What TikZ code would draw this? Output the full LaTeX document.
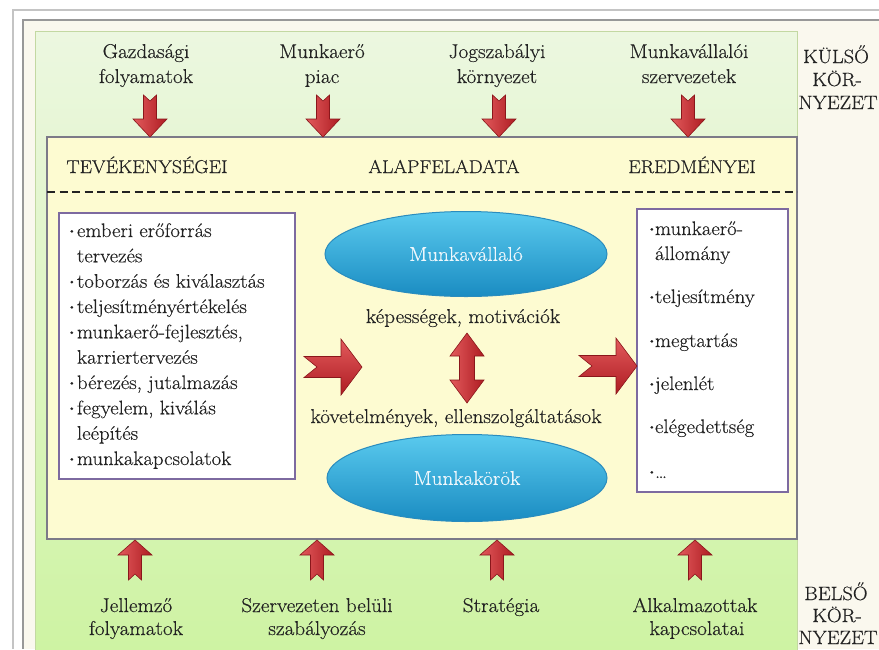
\documentclass[tikz,border=0pt]{standalone}
\usepackage{fontspec}
\setmainfont{Latin Modern Roman}[FakeStretch=1.06, FakeBold=0.35]
\definecolor{txt}{HTML}{222222}
\definecolor{framegray}{HTML}{C4C4C4}
\definecolor{framedark}{HTML}{989898}
\definecolor{creamc}{HTML}{FAF8EE}
\definecolor{greentop}{HTML}{ECF7E0}
\definecolor{greenbot}{HTML}{CEF3A3}
\definecolor{greenedge}{HTML}{C3D8A2}
\definecolor{yellowc}{HTML}{FDFBD1}
\definecolor{yedge}{HTML}{7C7A88}
\definecolor{boxedge}{HTML}{7D6AA0}
\definecolor{ellTop}{HTML}{5ACAEE}
\definecolor{ellBot}{HTML}{1A8CC2}
\definecolor{ellEdge}{HTML}{2A8CBE}
\definecolor{ellText}{HTML}{EEF7FC}
\definecolor{arrL}{HTML}{E25A5C}
\definecolor{arrD}{HTML}{AE1C22}
\definecolor{arrEdge}{HTML}{8A161B}
\usetikzlibrary{shapes.geometric}
\newcommand{\mybullet}[1]{\makebox[#1][l]{\raisebox{0.42ex}{\fontsize{9}{9}\selectfont\textbullet}}}
\tikzset{
  every node/.style={font=\fontsize{20}{24}\selectfont, text=txt, inner sep=0pt, outer sep=0pt},
  sidelbl/.style={font=\fontsize{19.3}{22}\selectfont, anchor=base},
  hdr/.style={font=\fontsize{18.6}{22}\selectfont, anchor=base},
  lbl/.style={anchor=base},
  item/.style={anchor=base west, font=\fontsize{19.6}{24}\selectfont},
  panel/.style={rectangle, draw=greenedge, line width=1pt, top color=greentop, bottom color=greenbot},
  ybox/.style={rectangle, draw=yedge, line width=1.3pt, fill=yellowc},
  listbox/.style={rectangle, draw=boxedge, line width=2pt, fill=white},
  oval/.style={ellipse, draw=ellEdge, line width=1pt, top color=ellTop, bottom color=ellBot, text=ellText},
  dashline/.style={draw=txt, line width=1.6pt, dash pattern=on 8pt off 4.5pt},
  vfill/.style={draw=arrEdge, line width=0.6pt, left color=arrL, right color=arrD},
  hfill/.style={draw=arrEdge, line width=0.6pt, top color=arrL, bottom color=arrD},
  pics/arrdown/.style={code={
    \path[vfill] (0,0) -- (-17,-18) -- (-6.5,-18) -- (-6.5,-42) -- (0,-36) -- (6.5,-42) -- (6.5,-18) -- (17,-18) -- cycle;
  }},
  pics/arrup/.style={code={
    \path[vfill] (0,0) -- (-17,15) -- (-6.5,15) -- (-6.5,40) -- (0,34) -- (6.5,40) -- (6.5,15) -- (17,15) -- cycle;
  }},
  pics/arrright/.style={code={
    \path[hfill] (0,0) -- (-21,-28) -- (-21,-10.5) -- (-58,-10.5) -- (-45,0) -- (-58,10.5) -- (-21,10.5) -- (-21,28) -- cycle;
  }},
  pics/arrupdown/.style={code={
    \path[vfill] (0,-35) -- (17,-12) -- (7.5,-12) -- (7.5,12) -- (17,12) -- (0,35) -- (-17,12) -- (-7.5,12) -- (-7.5,-12) -- (-17,-12) -- cycle;
  }},
}
\begin{document}
\begin{tikzpicture}[x=1pt,y=-1pt]
\useasboundingbox (0,0) rectangle (879,649);
\fill[white] (0,0) rectangle (879,649);
% window frame
\draw[framegray, line width=1.2pt] (13,649) -- (13,10) -- (879,10);
\fill[creamc] (23,20) rectangle (879,649);
\draw[framedark, line width=1.8pt] (23,649) -- (23,20) -- (879,20);
% green panel and core box
\node[panel, minimum width=762pt, minimum height=620pt] (panel) at (416,341) {};
\node[ybox, minimum width=750pt, minimum height=402pt] (core) at (422,338) {};
\coordinate (dl) at (47,192);
\coordinate (dr) at (797,192);
\draw[dashline] (dl) -- (dr);
% headers
\node[hdr] (h1) at (147,173) {TEVÉKENYSÉGEI};
\node[hdr] (h2) at (444,173) {ALAPFELADATA};
\node[hdr] (h3) at (692,173) {EREDMÉNYEI};
% top labels
\node[lbl] (t1a) at (146,58) {Gazdasági};
\node[lbl] (t1b) at (146,83) {folyamatok};
\node[lbl] (t2a) at (322,58) {Munkaerő};
\node[lbl] (t2b) at (322,83) {piac};
\node[lbl] (t3a) at (497,58) {Jogszabályi};
\node[lbl] (t3b) at (497,83) {környezet};
\node[lbl] (t4a) at (689,58) {Munkavállalói};
\node[lbl] (t4b) at (689,83) {szervezetek};
% side labels
\node[sidelbl] (k1) at (836,63) {KÜLSŐ};
\node[sidelbl] (k2) at (837,86) {KÖR-};
\node[sidelbl] (k3) at (838,109) {NYEZET};
\node[sidelbl] (s1) at (836,600) {BELSŐ};
\node[sidelbl] (s2) at (837,622) {KÖR-};
\node[sidelbl] (s3) at (838,644) {NYEZET};
% top arrows
\pic (a1) at (150,137) {arrdown};
\pic (a2) at (323,137) {arrdown};
\pic (a3) at (499,137) {arrdown};
\pic (a4) at (688,137) {arrdown};
% bottom arrows
\pic (u1) at (135,540) {arrup};
\pic (u2) at (317,540) {arrup};
\pic (u3) at (497,540) {arrup};
\pic (u4) at (695,540) {arrup};
% bottom labels
\node[lbl] (b1a) at (136,612) {Jellemző};
\node[lbl] (b1b) at (136,635) {folyamatok};
\node[lbl] (b2a) at (317,612) {Szervezeten belüli};
\node[lbl] (b2b) at (317,635) {szabályozás};
\node[lbl] (b3) at (501,612) {Stratégia};
\node[lbl] (b4a) at (695,612) {Alkalmazottak};
\node[lbl] (b4b) at (697,635) {kapcsolatai};
% list boxes
\node[listbox, minimum width=236pt, minimum height=266pt] (lbox) at (177,346) {};
\node[listbox, minimum width=151pt, minimum height=283pt] (rbox) at (712.5,350.5) {};
\node[item] (l1) at (68,237.0) {\mybullet{9pt}emberi erőforrás};
\node[item] (l2) at (68,262.3) {\hspace{9pt}tervezés};
\node[item] (l3) at (68,287.7) {\mybullet{9pt}toborzás és kiválasztás};
\node[item] (l4) at (68,313.0) {\mybullet{9pt}teljesítményértékelés};
\node[item] (l5) at (68,338.3) {\mybullet{9pt}munkaerő-fejlesztés,};
\node[item] (l6) at (68,363.7) {\hspace{9pt}karriertervezés};
\node[item] (l7) at (68,389.0) {\mybullet{9pt}bérezés, jutalmazás};
\node[item] (l8) at (68,414.3) {\mybullet{9pt}fegyelem, kiválás};
\node[item] (l9) at (68,439.7) {\hspace{9pt}leépítés};
\node[item] (l10) at (68,465.0) {\mybullet{9pt}munkakapcsolatok};
\node[item] (r1) at (648,235) {\mybullet{7pt}munkaerő-};
\node[item] (r2) at (648,260) {\hspace{7pt}állomány};
\node[item] (r3) at (648,303) {\mybullet{7pt}teljesítmény};
\node[item] (r4) at (648,347) {\mybullet{7pt}megtartás};
\node[item] (r5) at (648,390) {\mybullet{7pt}jelenlét};
\node[item] (r6) at (648,433) {\mybullet{7pt}elégedettség};
\node[item] (r7) at (648,478) {\mybullet{7pt}\ldots};
% ellipses
\node[oval, minimum width=282pt, minimum height=85pt] (emp) at (466,254) {Munkavállaló};
\node[oval, minimum width=280pt, minimum height=87pt] (jobs) at (467,478) {Munkakörök};
\node[lbl] (cap1) at (463,323) {képességek, motivációk};
\node[lbl] (cap2) at (456,423) {követelmények, ellenszolgáltatások};
% middle arrows
\pic (m1) at (362,367) {arrright};
\pic (m2) at (637,366) {arrright};
\pic (m3) at (467,368) {arrupdown};
\end{tikzpicture}
\end{document}
